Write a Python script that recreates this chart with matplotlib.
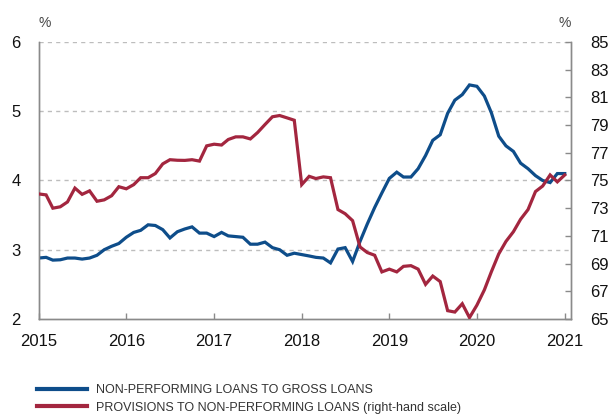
import numpy as np
import pandas as pd
import matplotlib
matplotlib.use('Agg')
import matplotlib.pyplot as plt
import matplotlib.dates as mdates
from matplotlib import font_manager

# ----------------------------------------------------------------------------------------------------------------------
# DATA (monthly, Jan 2015 - Jan 2021)
# ----------------------------------------------------------------------------------------------------------------------

npl_to_gross = [2.88, 2.89, 2.85, 2.855, 2.88, 2.88, 2.865, 2.88, 2.92, 3.00, 3.05, 3.09,
                3.18, 3.25, 3.28, 3.36, 3.35, 3.29, 3.17, 3.26, 3.30, 3.33, 3.24, 3.24,
                3.19, 3.25, 3.20, 3.19, 3.18, 3.08, 3.08, 3.11, 3.03, 3.00, 2.92, 2.95,
                2.93, 2.91, 2.89, 2.88, 2.81, 3.01, 3.03, 2.83, 3.12, 3.37, 3.61, 3.82,
                4.03, 4.12, 4.05, 4.05, 4.17, 4.36, 4.58, 4.66, 4.97, 5.16, 5.24, 5.38,
                5.36, 5.22, 4.98, 4.64, 4.50, 4.42, 4.25, 4.17, 4.07, 4.00, 3.97, 4.10,
                4.10]
provisions_to_npl = [74.03, 73.96, 73.0, 73.1, 73.45, 74.45, 74.0, 74.25, 73.5, 73.6, 73.9, 74.55,
                     74.4, 74.7, 75.2, 75.2, 75.5, 76.2, 76.5, 76.46, 76.45, 76.5, 76.4, 77.5,
                     77.62, 77.56, 77.96, 78.15, 78.15, 78.0, 78.46, 79.04, 79.6, 79.69, 79.52, 79.35,
                     74.7, 75.3, 75.14, 75.26, 75.2, 72.9, 72.6, 72.1, 70.2, 69.8, 69.6, 68.4,
                     68.6, 68.4, 68.8, 68.85, 68.6, 67.5, 68.1, 67.7, 65.6, 65.5, 66.1, 65.1,
                     66.0, 67.1, 68.4, 69.7, 70.6, 71.3, 72.2, 72.9, 74.2, 74.6, 75.4, 74.9,
                     75.4]
dates = pd.date_range('2015-01-01', periods=len(npl_to_gross), freq='MS')

left_ticks = [2, 3, 4, 5, 6]
right_ticks = [65, 67, 69, 71, 73, 75, 77, 79, 81, 83, 85]
year_ticks = pd.date_range('2015-01-01', '2021-01-01', freq='YS')

label_npl = 'NON-PERFORMING LOANS TO GROSS LOANS'
label_prov = 'PROVISIONS TO NON-PERFORMING LOANS (right-hand scale)'

# ----------------------------------------------------------------------------------------------------------------------
# STYLE
# ----------------------------------------------------------------------------------------------------------------------

names = {f.name for f in font_manager.fontManager.ttflist}
narrow = 'Liberation Sans Narrow' if 'Liberation Sans Narrow' in names else 'Liberation Sans'
legend_size = 10 if narrow == 'Liberation Sans Narrow' else 9
plt.rcParams['font.family'] = ['Liberation Sans', 'DejaVu Sans']

blue = '#0e4d8a'
red = '#a3263f'
spine_col = '#8a8a8a'
grid_col = '#bdbdbd'

# ----------------------------------------------------------------------------------------------------------------------
# PLOT
# ----------------------------------------------------------------------------------------------------------------------

fig = plt.figure(figsize=(6.09, 4.19), dpi=100)
ax1 = fig.add_axes([0.0635, 0.2387, 0.8741, 0.6611])
ax2 = ax1.twinx()

for v in left_ticks[1:]:
    ax1.axhline(v, color=grid_col, linewidth=1.0, linestyle=(0, (3, 3)), zorder=0)

ax1.plot(dates, npl_to_gross, color=blue, linewidth=2.3, solid_joinstyle='miter', zorder=3)
ax2.plot(dates, provisions_to_npl, color=red, linewidth=2.3, solid_joinstyle='miter', zorder=3)

ax1.set_ylim(2, 6)
ax1.set_yticks(left_ticks)
ax2.set_ylim(65, 85)
ax2.set_yticks(right_ticks)
ax1.set_xlim(pd.Timestamp('2015-01-01'), pd.Timestamp('2021-01-27'))
ax1.set_xticks(year_ticks)
ax1.xaxis.set_major_formatter(mdates.DateFormatter('%Y'))

for ax in (ax1, ax2):
    ax.spines['top'].set_visible(False)
    for s in ('left', 'right', 'bottom'):
        ax.spines[s].set_color(spine_col)
        ax.spines[s].set_linewidth(1.0)

ax1.tick_params(axis='x', direction='in', length=4, width=1, color=spine_col, labelsize=12, pad=11, labelcolor='#111111')
ax1.tick_params(axis='y', length=0, labelsize=12, pad=13, labelcolor='#111111')
ax2.tick_params(axis='y', direction='in', length=4, width=1, color=spine_col, labelsize=12, pad=14, labelcolor='#111111')

ax1.text(0.0, 1.045, '%', transform=ax1.transAxes, ha='left', va='bottom', fontsize=10, color='#444444')
ax1.text(1.0, 1.045, '%', transform=ax1.transAxes, ha='right', va='bottom', fontsize=10, color='#444444')

# Legend ---------------------------------------------------------------------------------------------------------------
h1, = ax1.plot([], [], color=blue, linewidth=3.0)
h2, = ax1.plot([], [], color=red, linewidth=3.0)
fig.legend([h1, h2], [label_npl, label_prov], loc='upper left', bbox_to_anchor=(0.061, 0.083),
           frameon=False, handlelength=4.0, handletextpad=0.7, labelspacing=0.45, borderaxespad=0,
           borderpad=0, prop=dict(family=narrow, size=legend_size), labelcolor='#333333')

plt.savefig('out.png', dpi=100)
